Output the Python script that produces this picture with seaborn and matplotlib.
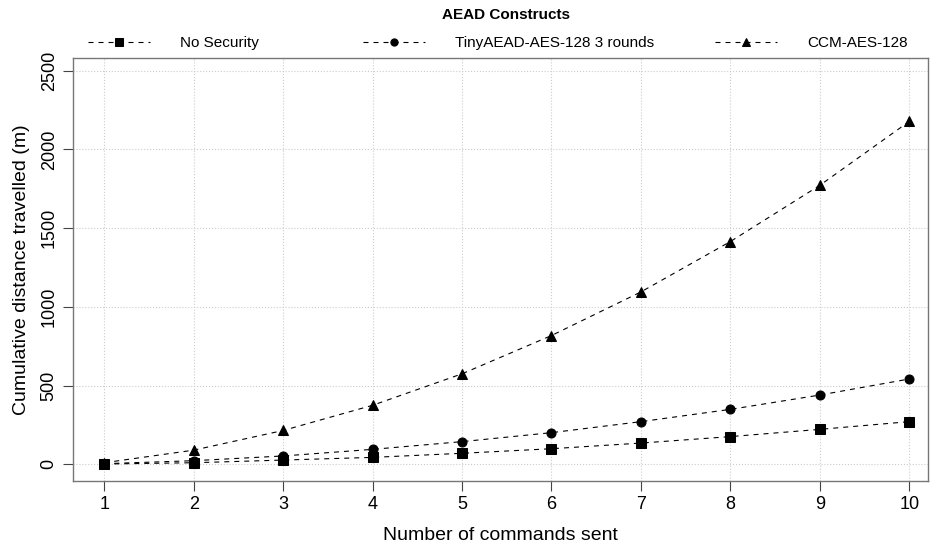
import matplotlib
matplotlib.use("Agg")
import matplotlib.pyplot as plt
import seaborn as sns
import pandas as pd

commands = [1, 2, 3, 4, 5, 6, 7, 8, 9, 10]
no_security = [2, 10, 27, 44, 70, 99, 135, 176, 222, 271]
tiny_aead = [4, 23, 53, 95, 144, 201, 271, 349, 440, 542]
ccm_aes = [10, 90, 215, 375, 575, 818, 1095, 1415, 1772, 2178]
series_names = ["No Security", "TinyAEAD-AES-128 3 rounds", "CCM-AES-128"]
markers = ["s", "o", "^"]
y_ticks = [0, 500, 1000, 1500, 2000, 2500]

sns.set_theme(style="white")
plt.rcParams["font.family"] = ["Liberation Sans", "DejaVu Sans"]
plt.rcParams["text.color"] = "black"
plt.rcParams["axes.labelcolor"] = "black"
plt.rcParams["xtick.color"] = "black"
plt.rcParams["ytick.color"] = "black"

fig = plt.figure(figsize=(9.31, 5.44), dpi=100)
ax = fig.add_axes([73 / 931, 1 - 481 / 544, (928 - 73) / 931, (481 - 58) / 544])

frames = []
for name, vals in zip(series_names, [no_security, tiny_aead, ccm_aes]):
    frames.append(pd.DataFrame({"commands": commands, "distance": vals, "series": name}))
df = pd.concat(frames, ignore_index=True)

handles = []
for name, mk in zip(series_names, markers):
    sub = df[df["series"] == name]
    sns.lineplot(data=sub, x="commands", y="distance", ax=ax, color="black",
                 marker=mk, markersize=6.5 if mk != "^" else 7.5, markeredgecolor="black",
                 linewidth=0.8, legend=False)
    ln = ax.lines[-1]
    ln.set_dashes((4.5, 4.5))
    handles.append(ln)

ax.set_xlim(0.65, 10.21)
ax.set_ylim(-106, 2581)
ax.set_xticks(commands)
ax.set_yticks(y_ticks)
ax.set_yticklabels([str(v) for v in y_ticks], rotation=90, va="center")
ax.tick_params(axis="both", which="major", direction="out", length=7, width=0.8,
               color="#444444", labelsize=13, pad=4, bottom=True, left=True)
ax.grid(True, linestyle=":", color="#cccccc", linewidth=0.8)
for sp in ax.spines.values():
    sp.set_color("#777777")
    sp.set_linewidth(1.0)

ax.set_xlabel("Number of commands sent", fontsize=14, labelpad=10)
ax.set_ylabel("Cumulative distance travelled (m)", fontsize=14, labelpad=8)

fig.text(506 / 931, 1 - 15 / 544, "AEAD Constructs", ha="center", va="center",
         fontsize=11, fontweight="bold")

leg_x = [88 / 931, 363 / 931, 715 / 931]
for h, name, lx in zip(handles, series_names, leg_x):
    leg = fig.legend([h], [name], loc="center left", bbox_to_anchor=(lx, 1 - 43 / 544),
                     frameon=False, fontsize=11, handlelength=4.05, handletextpad=1.96,
                     markerscale=0.8, borderpad=0, borderaxespad=0)

fig.savefig("out.png", dpi=100)
